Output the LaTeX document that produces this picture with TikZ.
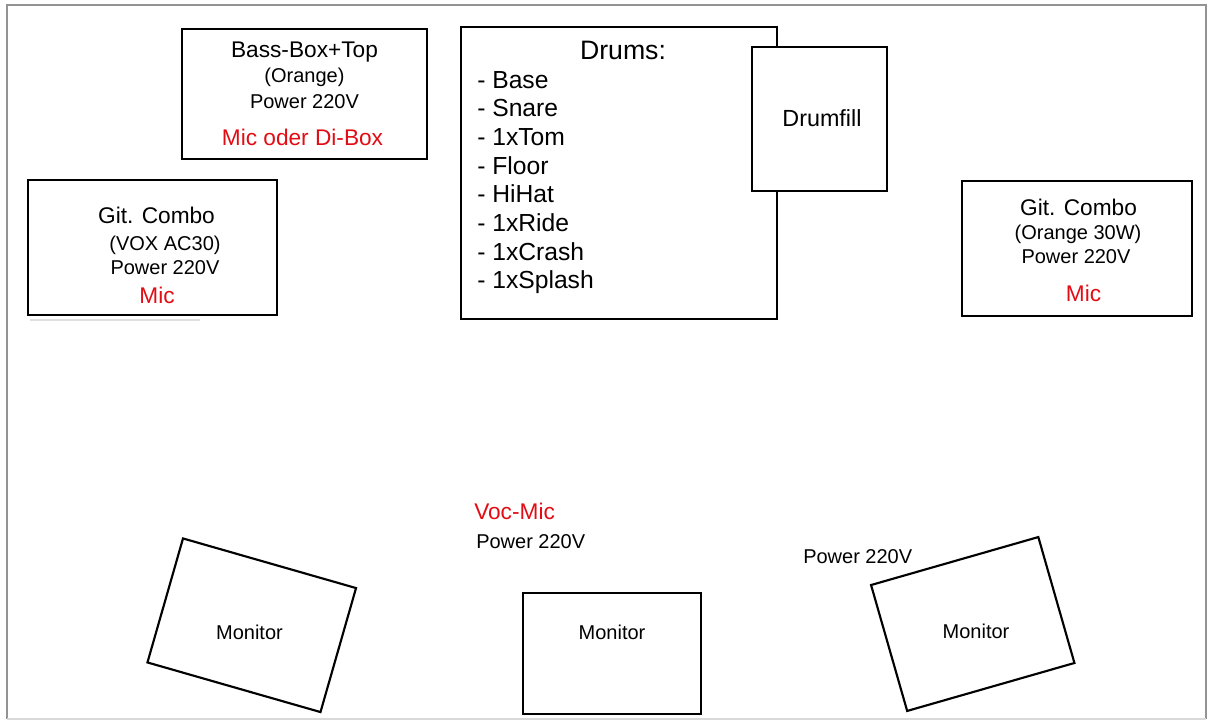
\documentclass[tikz,border=0pt]{standalone}
\usepackage{fontspec}
\setmainfont{Liberation Sans}
\definecolor{micred}{RGB}{226,12,20}
\begin{document}
\begin{tikzpicture}[x=0.75pt,y=-0.75pt,
		every node/.style={inner sep=0pt},
		gear/.style={draw, line width=2pt, fill=white},
		monbox/.style={draw, line width=1.6pt},
		big/.style={font=\fontsize{17}{20}\selectfont, anchor=base},
		small/.style={font=\fontsize{15}{18}\selectfont, anchor=base},
		mic/.style={big, text=micred},
		item/.style={font=\fontsize{18.5}{22}\selectfont, anchor=base west},
	]
	\useasboundingbox (0,0) rectangle (1211,722);
	% stage frame
	\draw [gray!85, line width=1.6pt] (7,719) -- (7,5) -- (1206,5) -- (1206,719);
	\draw [gray!30, line width=1pt] (7,719) -- (1206,719);
	\draw [gray!25, line width=1pt] (30,320) -- (200,320);

	% bass
	\node[gear, minimum width=183.75pt, minimum height=97.5pt] (bass) at (304.5,94) {};
	\node[big] (bassname) at (304.5,57) {Bass-Box+Top};
	\node[small] (basstype) at (304.5,82) {(Orange)};
	\node[small] (basspower) at (304.5,108) {Power 220V};
	\node[mic] (bassmic) at (302.5,145) {Mic oder Di-Box};

	% left guitar
	\node[gear, minimum width=186.75pt, minimum height=101.25pt] (gitL) at (152.5,247.5) {};
	\node[big] (gitLname) at (156.5,223) {Git. Combo};
	\node[small] (gitLtype) at (165,250) {(VOX AC30)};
	\node[small] (gitLpower) at (165,274) {Power 220V};
	\node[mic] (gitLmic) at (157,303) {Mic};

	% drums
	\node[gear, minimum width=237pt, minimum height=219pt] (drums) at (619,173) {};
	\node[font=\fontsize{20}{24}\selectfont, anchor=base] (drumstitle) at (623,59) {Drums:};
	\foreach \drum [count=\i from 0] in {Base,Snare,1xTom,Floor,HiHat,1xRide,1xCrash,1xSplash} {
			\node[item] (drum\i) at (477,{88+28.7*\i}) {- \drum};
		}
	\node[gear, minimum width=101.25pt, minimum height=108pt] (fill) at (819.5,119) {};
	\node[font=\fontsize{17.5}{21}\selectfont, anchor=base] (filltext) at (822,126) {Drumfill};

	% right guitar
	\node[gear, minimum width=172.5pt, minimum height=101.25pt] (gitR) at (1077,248.5) {};
	\node[big] (gitRname) at (1078.5,215) {Git. Combo};
	\node[small] (gitRtype) at (1078,239) {(Orange 30W)};
	\node[small] (gitRpower) at (1076,263) {Power 220V};
	\node[mic] (gitRmic) at (1083.5,301) {Mic};

	% vocals
	\node[mic, anchor=base west] (voc) at (474,519) {Voc-Mic};
	\node[small, anchor=base west] (vocpower) at (476,548) {Power 220V};
	\node[small, anchor=base west] (monRpower) at (803,563) {Power 220V};

	% monitors
	\node[monbox, minimum width=135pt, minimum height=96.75pt, rotate=-16] (monL) at (251.75,625.25) {};
	\node[monbox, minimum width=133.5pt, minimum height=90.75pt] (monM) at (612,653.5) {};
	\node[monbox, minimum width=130.5pt, minimum height=98.25pt, rotate=16] (monR) at (972.75,624) {};
	\node[small] (monLtext) at (249.5,639) {Monitor};
	\node[small] (monMtext) at (612,639) {Monitor};
	\node[small] (monRtext) at (976,638) {Monitor};
\end{tikzpicture}
\end{document}
